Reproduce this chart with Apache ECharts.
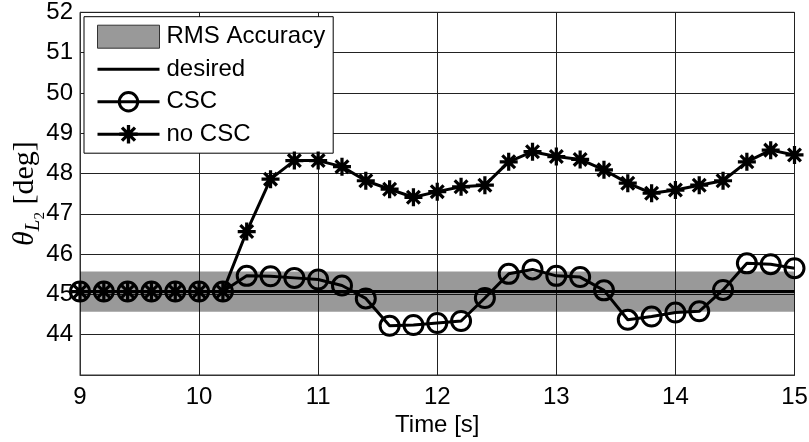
<!DOCTYPE html>
<html>
<head>
<meta charset="utf-8">
<script src="https://cdn.jsdelivr.net/npm/echarts@6/dist/echarts.min.js"></script>
<style>
  html, body { margin: 0; padding: 0; background: #fff; }
  #chart { width: 809px; height: 442px; }
</style>
</head>
<body>
<div id="chart"></div>
<script>
// Sample times [s]
var time = [9.0, 9.2, 9.4, 9.6, 9.8, 10.0, 10.2, 10.4, 10.6, 10.8, 11.0,
            11.2, 11.4, 11.6, 11.8, 12.0, 12.2, 12.4, 12.6, 12.8, 13.0,
            13.2, 13.4, 13.6, 13.8, 14.0, 14.2, 14.4, 14.6, 14.8, 15.0];

// Joint angle with CSC enabled [deg]
var cscValues = [45.07, 45.07, 45.07, 45.07, 45.07, 45.07, 45.07, 45.46, 45.45, 45.41, 45.37,
                 45.22, 44.90, 44.22, 44.24, 44.29, 44.34, 44.91, 45.51, 45.62, 45.46,
                 45.43, 45.10, 44.37, 44.45, 44.55, 44.58, 45.11, 45.77, 45.75, 45.65];

// Joint angle without CSC [deg]
var noCscValues = [45.07, 45.07, 45.07, 45.07, 45.07, 45.07, 45.07, 46.56, 47.86, 48.32, 48.32,
                   48.17, 47.82, 47.61, 47.41, 47.55, 47.67, 47.71, 48.29, 48.54, 48.42,
                   48.35, 48.09, 47.76, 47.51, 47.59, 47.71, 47.82, 48.29, 48.58, 48.46];

// Desired angle [deg]
var desiredTime = [9, 15];
var desiredValues = [45.07, 45.07];

// RMS accuracy band limits [deg]
var rmsLow = 44.57;
var rmsHigh = 45.57;

// Axis ranges
var xTicks = { min: 9, max: 15, step: 1 };
var yTicks = { min: 43, max: 52, step: 1 };

function pairs(xs, ys) {
  return xs.map(function (x, i) { return [x, ys[i]]; });
}

// Asterisk marker built from four thin bars
var asterisk = 'path://' +
  'M-10 -1.8L10 -1.8L10 1.8L-10 1.8Z' +
  'M-1.8 -10L1.8 -10L1.8 10L-1.8 10Z' +
  'M-5.80 -8.34L8.34 5.80L5.80 8.34L-8.34 -5.80Z' +
  'M-8.34 5.80L5.80 -8.34L8.34 -5.80L-5.80 8.34Z';

var font = 'Liberation Sans, Arial, Helvetica, sans-serif';
var serif = 'Liberation Serif, DejaVu Serif, serif';
var fs = 24;

var chart = echarts.init(document.getElementById('chart'), null, { renderer: 'canvas' });

chart.setOption({
  backgroundColor: '#fff',
  animation: false,
  grid: {
    left: 80, right: 14.5, top: 12.3, bottom: 67,
    containLabel: false,
    outerBoundsMode: 'none',
    show: true, borderColor: '#333', borderWidth: 1, backgroundColor: '#fff'
  },
  legend: {
    orient: 'vertical',
    left: 84, top: 16.7,
    backgroundColor: '#fff',
    borderColor: '#000', borderWidth: 1,
    padding: [8, 8, 7, 12],
    itemWidth: 62, itemHeight: 23, itemGap: 8.5,
    textStyle: { fontFamily: font, fontSize: fs, color: '#000', padding: [0, 0, 0, 2] },
    data: [
      { name: 'RMS Accuracy', icon: 'rect',
        itemStyle: { color: '#999', borderColor: '#333', borderWidth: 1 } },
      { name: 'desired', lineStyle: { width: 3 } },
      { name: 'CSC', lineStyle: { width: 3 }, itemStyle: { borderWidth: 3 } },
      { name: 'no CSC', lineStyle: { width: 3 } }
    ]
  },
  xAxis: {
    type: 'value',
    min: xTicks.min, max: xTicks.max, interval: xTicks.step,
    name: 'Time [s]',
    nameLocation: 'middle', nameGap: 38,
    nameMoveOverlap: false,
    nameTextStyle: { fontFamily: font, fontSize: fs, color: '#000' },
    axisLine: { show: true, lineStyle: { color: '#333', width: 1 } },
    axisTick: { show: false },
    axisLabel: { fontFamily: font, fontSize: fs, color: '#000', margin: 10 },
    splitLine: { show: true, lineStyle: { color: '#222', width: 1 } }
  },
  yAxis: {
    type: 'value',
    min: yTicks.min, max: yTicks.max, interval: yTicks.step,
    name: '{th|θ}{sub|L}{sub2|2}{d| [deg]}',
    nameLocation: 'middle', nameGap: 40, nameRotate: 90,
    nameMoveOverlap: false,
    nameTextStyle: {
      color: '#000',
      rich: {
        th: { fontFamily: serif, fontStyle: 'italic', fontSize: 30, color: '#000', verticalAlign: 'bottom' },
        sub: { fontFamily: serif, fontStyle: 'italic', fontSize: 21, color: '#000', verticalAlign: 'bottom', padding: [0, 0, -4, 0] },
        sub2: { fontFamily: serif, fontSize: 15, color: '#000', verticalAlign: 'bottom', padding: [0, 0, -8, 0] },
        d: { fontFamily: serif, fontSize: 30, color: '#000', verticalAlign: 'bottom' }
      }
    },
    axisLine: { show: true, lineStyle: { color: '#333', width: 1 } },
    axisTick: { show: false },
    axisLabel: { fontFamily: font, fontSize: fs, color: '#000', margin: 7, showMinLabel: false },
    splitLine: { show: true, lineStyle: { color: '#222', width: 1 } }
  },
  series: [
    {
      name: 'RMS Accuracy',
      type: 'line',
      data: [],
      z: 1,
      itemStyle: { color: '#999' },
      markArea: {
        silent: true,
        itemStyle: { color: 'rgba(0,0,0,0.4)' },
        data: [[{ yAxis: rmsLow }, { yAxis: rmsHigh }]]
      }
    },
    {
      name: 'desired',
      type: 'line',
      data: pairs(desiredTime, desiredValues),
      symbol: 'circle',
      showSymbol: false,
      z: 2,
      itemStyle: { color: 'rgba(0,0,0,0)', borderWidth: 0 },
      lineStyle: { color: '#000', width: 3 }
    },
    {
      name: 'CSC',
      type: 'line',
      data: pairs(time, cscValues),
      symbol: 'circle',
      symbolSize: 19,
      z: 3,
      itemStyle: { color: 'rgba(0,0,0,0)', borderColor: '#000', borderWidth: 3 },
      lineStyle: { color: '#000', width: 3 }
    },
    {
      name: 'no CSC',
      type: 'line',
      data: pairs(time, noCscValues),
      symbol: asterisk,
      symbolSize: 18,
      z: 4,
      itemStyle: { color: '#000', borderWidth: 0 },
      lineStyle: { color: '#000', width: 3 }
    }
  ]
});
</script>
</body>
</html>
